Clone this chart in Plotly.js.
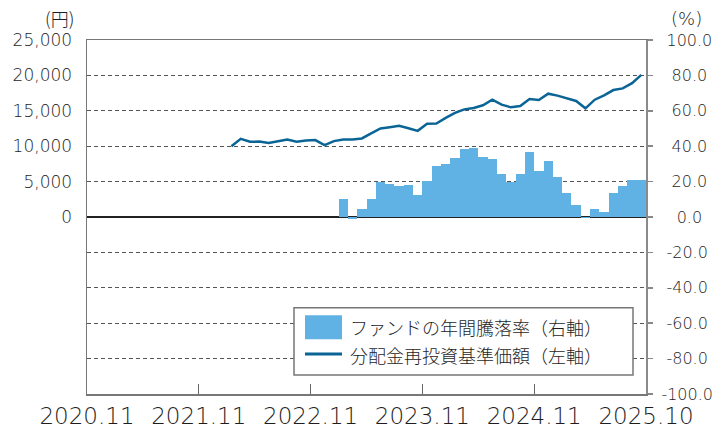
<!DOCTYPE html>
<html>
<head>
<meta charset="utf-8">
<script src="https://cdn.plot.ly/plotly-3.0.1.min.js"></script>
<style>
  html, body { margin: 0; padding: 0; background: #fff; }
  #chart { width: 712px; height: 428px; }
</style>
</head>
<body>
<div id="chart"></div>
<script>
// ---- data ----
const months = [
  "2020.11","2020.12",
  "2021.01","2021.02","2021.03","2021.04","2021.05","2021.06","2021.07","2021.08","2021.09","2021.10","2021.11","2021.12",
  "2022.01","2022.02","2022.03","2022.04","2022.05","2022.06","2022.07","2022.08","2022.09","2022.10","2022.11","2022.12",
  "2023.01","2023.02","2023.03","2023.04","2023.05","2023.06","2023.07","2023.08","2023.09","2023.10","2023.11","2023.12",
  "2024.01","2024.02","2024.03","2024.04","2024.05","2024.06","2024.07","2024.08","2024.09","2024.10","2024.11","2024.12",
  "2025.01","2025.02","2025.03","2025.04","2025.05","2025.06","2025.07","2025.08","2025.09","2025.10"
];

// 分配金再投資基準価額（左軸）, from 2022.02
const navStart = "2022.02";
const navValues = [
  10000, 11050, 10630, 10650, 10440, 10720, 10950, 10630, 10810, 10860,
  10160, 10720, 10950, 10950, 11100, 11800, 12500, 12680, 12870, 12540,
  12170, 13180, 13200, 14000, 14700, 15200, 15400, 15780, 16570, 15870,
  15490, 15680, 16670, 16530, 17420, 17140, 16710, 16390, 15350, 16570,
  17180, 17930, 18160, 18910, 20080
];

// ファンドの年間騰落率（右軸, %）, from 2023.02
const retStart = "2023.02";
const retValues = [
  10.1, -0.9, 4.5, 10.1, 19.7, 18.5, 17.4, 18.0, 12.4, 20.2,
  28.7, 29.8, 33.1, 38.2, 38.8, 33.7, 32.6, 24.2, 19.9, 24.2,
  36.5, 25.8, 31.5, 22.5, 13.5, 6.7, -0.3, 4.5, 2.8, 13.5,
  17.4, 20.8, 20.8
];

const xTickLabels = ["2020.11","2021.11","2022.11","2023.11","2024.11","2025.10"];
const leftTickVals = [0, 5000, 10000, 15000, 20000, 25000];
const rightTickVals = [-100, -80, -60, -40, -20, 0, 20, 40, 60, 80, 100];
const legendNames = ["ファンドの年間騰落率（右軸）", "分配金再投資基準価額（左軸）"];
const leftUnit = "(円)";
const rightUnit = "(%)";

// ---- build ----
const navI0 = months.indexOf(navStart);
const retI0 = months.indexOf(retStart);
const navX = navValues.map((v, k) => navI0 + k);
const retX = retValues.map((v, k) => retI0 + k);
const nSlots = months.length;
const xTickVals = xTickLabels.map((t, k) => k * 12 - 0.5);
xTickVals[xTickVals.length - 1] = nSlots - 0.5;

const barColor = "#5fb2e3";
const lineColor = "#0a6596";
const textColor = "#1e1e1e";
const FONT = "'DejaVu Sans', 'Liberation Sans', sans-serif";
const CJK = "'Noto Sans CJK JP', 'Noto Sans', sans-serif";

function fmtRight(v) {
  const s = v.toFixed(1);
  const widest = 5.8 + 4 * 10.2 + 5.1;
  let w = 0;
  for (const c of s) w += (c === '.') ? 5.1 : (c === '-') ? 5.8 : 10.2;
  const pad = Math.round(((widest - w) / 2) / 5.1);
  return '\u00a0'.repeat(Math.max(0, pad)) + s;
}

const traces = [
  {
    type: "bar",
    x: retX,
    y: retValues,
    yaxis: "y",
    marker: { color: barColor, line: { width: 0 } },
    name: legendNames[0],
    showlegend: false,
    hoverinfo: "skip"
  },
  {
    type: "scatter",
    mode: "lines",
    x: navX,
    y: navValues,
    yaxis: "y2",
    line: { color: lineColor, width: 2.5 },
    name: legendNames[1],
    showlegend: false,
    hoverinfo: "skip"
  }
];

const layout = {
  width: 712,
  height: 428,
  margin: { l: 87, r: 66, t: 40, b: 34 },
  paper_bgcolor: "#ffffff",
  plot_bgcolor: "#ffffff",
  bargap: 0,
  showlegend: false,
  font: { family: FONT, color: textColor, size: 17 },
  xaxis: {
    range: [-0.5, nSlots - 0.5],
    tickmode: "array",
    tickvals: xTickVals,
    ticktext: xTickLabels,
    ticks: "inside",
    ticklen: 10,
    tickcolor: "#666",
    tickwidth: 1,
    showline: true,
    linecolor: "#777",
    linewidth: 1.5,
    mirror: true,
    showgrid: false,
    zeroline: false,
    tickfont: { family: FONT, size: 23, color: textColor, weight: 300 },
    ticklabelstandoff: 1
  },
  yaxis: {
    side: "right",
    range: [-100, 100],
    tickmode: "array",
    tickvals: rightTickVals,
    ticktext: rightTickVals.map(fmtRight),
    ticks: "outside",
    ticklen: 5,
    tickcolor: "#888",
    tickwidth: 1.5,
    showline: true,
    linecolor: "#8a8a8a",
    linewidth: 2.2,
    showgrid: true,
    gridcolor: "#555",
    gridwidth: 1,
    griddash: "4px,3px",
    zeroline: true,
    zerolinecolor: "#222",
    zerolinewidth: 1.5,
    tickfont: { family: FONT, size: 16, color: textColor, weight: 300 },
    ticklabelstandoff: 5
  },
  yaxis2: {
    overlaying: "y",
    side: "left",
    range: [-25000, 25000],
    tickmode: "array",
    tickvals: leftTickVals,
    tickformat: ",",
    ticks: "",
    showline: true,
    linecolor: "#777",
    linewidth: 1.5,
    showgrid: false,
    zeroline: false,
    tickfont: { family: FONT, size: 17, color: textColor, weight: 300 },
    ticklabelstandoff: 10
  },
  shapes: [
    // legend box
    { type: "rect", xref: "paper", yref: "paper",
      x0: (294 - 87) / 559, x1: (633 - 87) / 559,
      y0: (394 - 375) / 355, y1: (394 - 307.5) / 355,
      line: { color: "#777", width: 1.5 }, fillcolor: "#ffffff", layer: "above" },
    // bar swatch
    { type: "rect", xref: "paper", yref: "paper",
      x0: (305 - 87) / 559, x1: (342 - 87) / 559,
      y0: (394 - 339) / 355, y1: (394 - 315) / 355,
      line: { width: 0 }, fillcolor: barColor, layer: "above" },
    // line swatch
    { type: "line", xref: "paper", yref: "paper",
      x0: (305 - 87) / 559, x1: (342 - 87) / 559,
      y0: (394 - 354) / 355, y1: (394 - 354) / 355,
      line: { color: lineColor, width: 3 }, layer: "above" }
  ],
  annotations: [
    { xref: "paper", yref: "paper", x: (348 - 87) / 559, y: (394 - 327) / 355,
      xanchor: "left", yanchor: "middle", showarrow: false,
      text: legendNames[0], font: { family: CJK, size: 18, color: textColor, weight: 300 } },
    { xref: "paper", yref: "paper", x: (348 - 87) / 559, y: (394 - 355) / 355,
      xanchor: "left", yanchor: "middle", showarrow: false,
      text: legendNames[1], font: { family: CJK, size: 18, color: textColor, weight: 300 } },
    { xref: "paper", yref: "paper", x: (76 - 87) / 559, y: (394 - 17) / 355,
      xanchor: "right", yanchor: "middle", showarrow: false,
      text: leftUnit, font: { family: CJK, size: 18, color: textColor, weight: 300 } },
    { xref: "paper", yref: "paper", x: (686 - 87) / 559, y: (394 - 17) / 355,
      xanchor: "center", yanchor: "middle", showarrow: false,
      text: rightUnit, font: { family: FONT, size: 18, color: textColor, weight: 300 } }
  ]
};

Plotly.newPlot("chart", traces, layout, { displayModeBar: false, staticPlot: true });
</script>
</body>
</html>
